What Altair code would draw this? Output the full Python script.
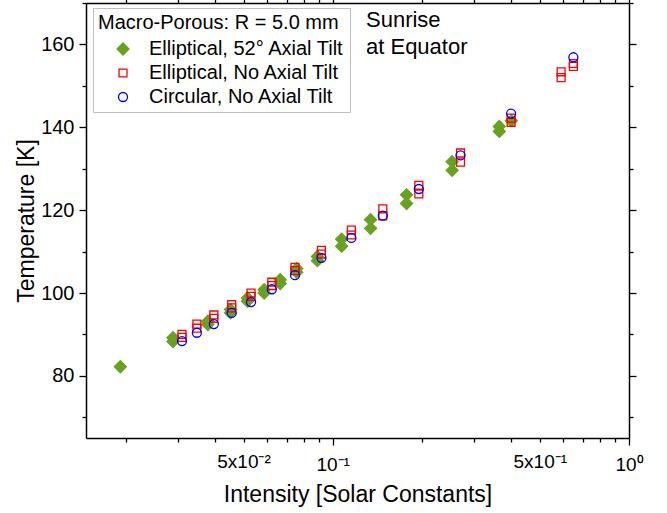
import altair as alt
import pandas as pd

S1 = "Elliptical, 52° Axial Tilt"
S2 = "Elliptical, No Axial Tilt"
S3 = "Circular, No Axial Tilt"

green_x = [0.0192, 0.0289, 0.0289, 0.0379, 0.0379, 0.0452, 0.0452, 0.0516, 0.0516,
           0.0587, 0.0587, 0.0665, 0.0665, 0.0756, 0.0756, 0.0888, 0.0888,
           0.1072, 0.1072, 0.1342, 0.1342, 0.1775, 0.1775, 0.253, 0.253,
           0.365, 0.365, 0.401]
green_y = [82.2, 88.3, 89.2, 92.4, 93.2, 95.2, 96.0, 98.0, 98.8,
           100.0, 100.8, 102.3, 103.2, 105.0, 105.9, 107.8, 108.8,
           111.3, 113.0, 115.6, 117.7, 121.6, 123.7, 129.6, 131.7,
           139.0, 140.2, 141.6]

red_x = [0.031, 0.031, 0.0348, 0.0348, 0.0397, 0.0397, 0.0456, 0.0456, 0.053, 0.053,
         0.0623, 0.0623, 0.0746, 0.0746, 0.0916, 0.0916, 0.1156, 0.1156,
         0.1476, 0.1476, 0.1953, 0.1953, 0.270, 0.270, 0.400, 0.400,
         0.590, 0.590, 0.649, 0.649]
red_y = [89.3, 90.0, 91.5, 92.5, 93.9, 94.7, 96.4, 97.2, 99.2, 100.0,
         101.8, 102.6, 105.4, 106.2, 109.4, 110.3, 114.0, 115.2,
         118.6, 120.3, 123.9, 126.0, 131.6, 133.8, 141.2, 142.2,
         152.0, 153.4, 154.7, 155.4]

blue_x = [0.031, 0.0348, 0.0397, 0.0456, 0.053, 0.0623, 0.0746, 0.0916,
          0.1156, 0.1476, 0.1953, 0.270, 0.400, 0.649]
blue_y = [88.4, 90.4, 92.5, 95.2, 97.8, 100.9, 104.3, 108.5,
          113.3, 118.7, 125.1, 133.2, 143.3, 156.9]

x_tick_values = [0.02, 0.03, 0.04, 0.05, 0.06, 0.07, 0.08, 0.09, 0.1,
                 0.2, 0.3, 0.4, 0.5, 0.6, 0.7, 0.8, 0.9, 1.0]
x_major = [0.1, 1.0]
x_labels = {0.05: "5x10⁻²", 0.1: "10⁻¹", 0.5: "5x10⁻¹", 1.0: "10⁰"}

y_tick_values = [70, 80, 90, 100, 110, 120, 130, 140, 150, 160, 170]
y_labels = [80, 100, 120, 140, 160]

rows = []
for s, xs, ys in [(S1, green_x, green_y), (S2, red_x, red_y), (S3, blue_x, blue_y)]:
    for a, b in zip(xs, ys):
        rows.append({"x": a, "y": b, "series": s})
df = pd.DataFrame(rows)

FONT = "Liberation Sans"

x_label_expr = " : ".join(
    [f"datum.value == {k} ? '{v}'" for k, v in x_labels.items()]
) + " : ''"
x_major_test = " || ".join([f"datum.value == {v}" for v in x_major])
y_label_expr = " || ".join([f"datum.value == {v}" for v in y_labels])
y_label_expr = f"({y_label_expr}) ? datum.label : ''"
y_major_test = " || ".join([f"datum.value == {v}" for v in y_labels])

xscale = alt.Scale(type="log", domain=[0.0147, 1.0], nice=False)
yscale = alt.Scale(domain=[65, 170], nice=False, zero=False)

common_axis = dict(grid=False, domainColor="black", domainWidth=1.5, tickColor="black",
                   tickWidth=1.3, labelFont=FONT, titleFont=FONT, labelColor="black",
                   titleColor="black", titleFontWeight="normal")

x_bottom = alt.Axis(orient="bottom", values=x_tick_values, labelExpr=x_label_expr,
                    tickSize={"condition": {"test": x_major_test, "value": 7}, "value": 4},
                    labelOverlap=False, labelFlush=False, labelFontSize=19, labelPadding=10,
                    title="Intensity [Solar Constants]", titleFontSize=23, titlePadding=9,
                    **common_axis)
y_left = alt.Axis(orient="left", values=y_tick_values, labelExpr=y_label_expr,
                  tickSize={"condition": {"test": y_major_test, "value": 7}, "value": 4},
                  labelOverlap=False, labelFlush=False, labelFontSize=20, labelPadding=5,
                  title="Temperature [K]", titleFontSize=23, titlePadding=2,
                  **common_axis)
x_top = alt.Axis(orient="top", values=x_tick_values, labels=False, title=None,
                 tickSize={"condition": {"test": x_major_test, "value": 7}, "value": 4},
                 **common_axis)
y_right = alt.Axis(orient="right", values=y_tick_values, labels=False, title=None,
                   tickSize={"condition": {"test": y_major_test, "value": 7}, "value": 4},
                   **common_axis)

# unit-box shape paths: diamond 12px, square 8px, circle 9px at size 144
DIAMOND = "M-1,0L0,-1L1,0L0,1Z"
SQUARE = "M-0.66,-0.66L0.66,-0.66L0.66,0.66L-0.66,0.66Z"
CIRCLE = "M0.75,0A0.75,0.75,0,1,1,-0.75,0A0.75,0.75,0,1,1,0.75,0Z"

domain = [S1, S2, S3]
legend = alt.Legend(orient="none", legendX=7, legendY=5, title="Macro-Porous: R = 5.0 mm",
                    titleFont=FONT, titleFontSize=20, titleFontWeight="normal",
                    titleColor="black", titleLimit=500, labelFont=FONT, labelFontSize=20,
                    labelColor="black", strokeColor="#c0c0c0", fillColor="white", padding=5,
                    symbolOffset=15, labelOffset=16, rowPadding=4, titlePadding=6,
                    symbolSize=144, symbolStrokeWidth=1.3, labelLimit=500)

points = alt.Chart(df).mark_point(filled=False, strokeWidth=1.3, opacity=1, size=144).encode(
    x=alt.X("x:Q", scale=xscale, axis=x_bottom),
    y=alt.Y("y:Q", scale=yscale, axis=y_left),
    color=alt.Color("series:N", scale=alt.Scale(domain=domain, range=["#69a121", "#ff0000", "#0000ff"]),
                    legend=legend, sort=domain),
    fill=alt.Fill("series:N", scale=alt.Scale(domain=domain, range=["#69a121", "transparent", "transparent"]),
                  legend=legend, sort=domain),
    shape=alt.Shape("series:N", scale=alt.Scale(domain=domain, range=[DIAMOND, SQUARE, CIRCLE]),
                    legend=legend, sort=domain),
)

mirror = alt.Chart(df).mark_point(opacity=0).encode(
    x=alt.X("x:Q", scale=xscale, axis=x_top),
    y=alt.Y("y:Q", scale=yscale, axis=y_right),
)

note = alt.Chart(pd.DataFrame({"a": [0]})).mark_text(
    text=["Sunrise", "at Equator"], align="left", baseline="alphabetic",
    font=FONT, fontSize=22, lineHeight=27, color="black"
).encode(x=alt.value(280), y=alt.value(24))

chart = alt.layer(points, mirror, note).resolve_axis(
    x="independent", y="independent"
).properties(
    width=543, height=435, autosize="none",
    padding={"left": 86, "top": 3, "right": 38, "bottom": 75},
).configure_view(stroke="black", strokeWidth=1.5).configure(font=FONT)

chart.save("out.html", embed_options={"renderer": "svg", "actions": False})
